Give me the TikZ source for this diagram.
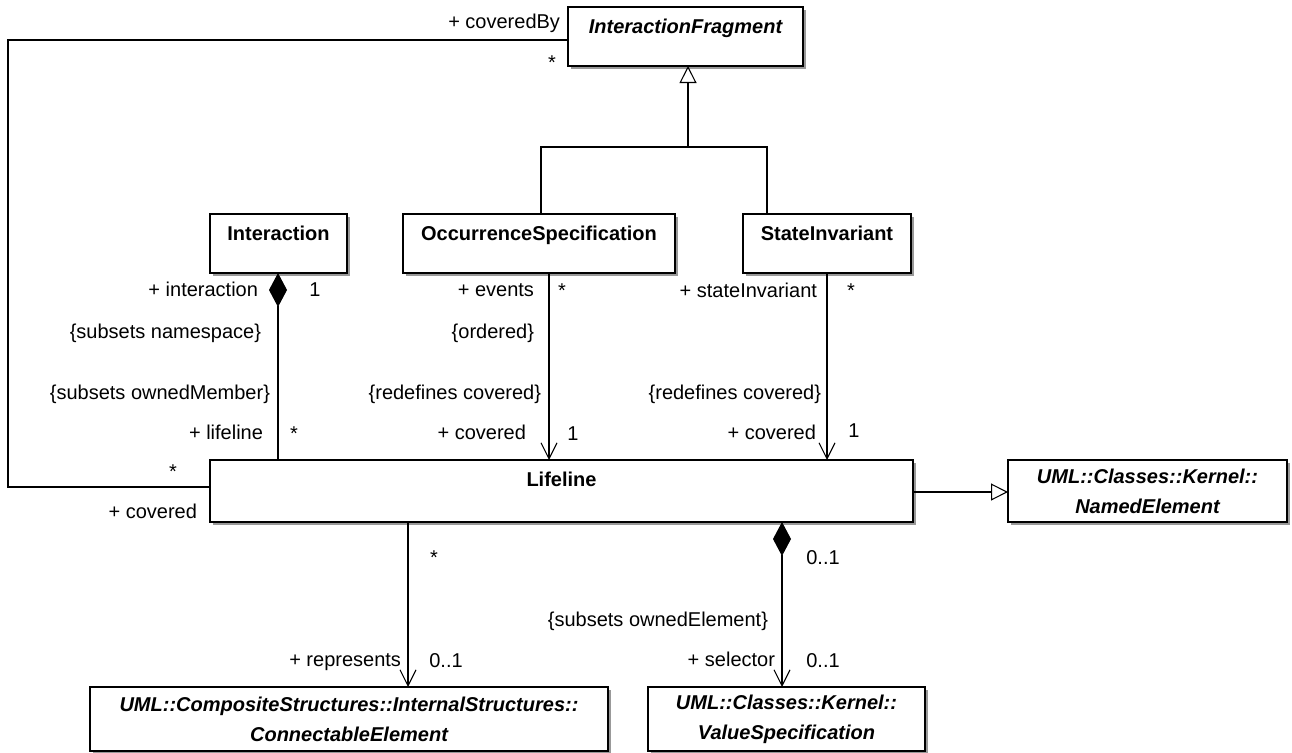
\documentclass[tikz,border=0pt]{standalone}
\usepackage{fontspec}
\setmainfont{Liberation Sans}
\usetikzlibrary{arrows.meta,shadows,calc}
\begin{document}
\begin{tikzpicture}[x=0.75pt,y=-0.75pt,
  every node/.style={inner sep=0pt, outer sep=0pt},
  cls/.style={draw, line width=1.1pt, fill=white,
    drop shadow={shadow xshift=2.25pt, shadow yshift=-2.25pt, fill=black, opacity=0.4}},
  ttl/.style={anchor=base, font=\fontsize{15pt}{18pt}\selectfont\bfseries},
  ital/.style={font=\fontsize{15pt}{22.5pt}\selectfont\bfseries\itshape, align=center},
  lbl/.style={anchor=base east, font=\fontsize{15pt}{18pt}\selectfont},
  mul/.style={anchor=base, font=\fontsize{15pt}{18pt}\selectfont},
  conn/.style={line width=0.8pt, line join=miter},
  assoc/.style={conn, -{Straight Barb[length=12pt,width=12pt,line width=0.8pt]}},
  gen/.style={conn, -{Triangle[length=12.75pt,width=12.75pt,fill=white,line width=0.8pt]}},
  comp/.style={conn, {Diamond[length=25.5pt,width=13.5pt,fill=black]}-},
  compassoc/.style={conn, {Diamond[length=25.5pt,width=13.5pt,fill=black]}-{Straight Barb[length=12pt,width=12pt,line width=0.8pt]}}
]
\useasboundingbox (0,0) rectangle (1292,753);

% classes
\node[cls, minimum width=176.25pt, minimum height=44.25pt] (IF) at (685.5,36.5) {};
\node[ttl] (IFt) at ([yshift=-19.5pt]IF.north) {\itshape InteractionFragment};
\node[cls, minimum width=102.75pt, minimum height=44.25pt] (I) at (278.5,243.5) {};
\node[ttl] (It) at ([yshift=-19.5pt]I.north) {Interaction};
\node[cls, minimum width=204pt, minimum height=44.25pt] (OS) at (539,243.5) {};
\node[ttl] (OSt) at ([yshift=-19.5pt]OS.north) {OccurrenceSpecification};
\node[cls, minimum width=126pt, minimum height=44.25pt] (SI) at (827,243.5) {};
\node[ttl] (SIt) at ([yshift=-19.5pt]SI.north) {StateInvariant};
\node[cls, minimum width=527.25pt, minimum height=46.5pt] (L) at (561.5,491) {};
\node[ttl] (Lt) at ([yshift=-20pt]L.north) {Lifeline};
\node[cls, ital, minimum width=209.25pt, minimum height=46.5pt] (NE) at (1147.5,491) {UML::Classes::Kernel::\\NamedElement};
\node[cls, ital, minimum width=388.5pt, minimum height=48pt] (CE) at (349,719) {UML::CompositeStructures::InternalStructures::\\ConnectableElement};
\node[cls, ital, minimum width=207.75pt, minimum height=48pt] (VS) at (786.5,719) {UML::Classes::Kernel::\\ValueSpecification};

% helper coordinates
\coordinate (loopTop) at (8,40);
\coordinate (loopBot) at (8,487);
\coordinate (trunk) at (688,147);
\coordinate (c541) at (541,0);
\coordinate (c767) at (767,0);
\coordinate (c278) at (278,0);
\coordinate (c549) at (549,0);
\coordinate (c827) at (827,0);
\coordinate (c408) at (408,0);
\coordinate (c782) at (782,0);
\coordinate (r492) at (0,492);

% connectors
\draw[conn] (IF.west |- loopTop) -- (loopTop) -- (loopBot) -- (L.west |- loopBot);
\draw[conn] (OS.north -| c541) |- (trunk);
\draw[conn] (SI.north -| c767) |- (trunk);
\draw[gen] (trunk) -- (IF.south -| trunk);
\draw[comp] (I.south -| c278) -- (L.north -| c278);
\draw[assoc] (OS.south -| c549) -- (L.north -| c549);
\draw[assoc] (SI.south -| c827) -- (L.north -| c827);
\draw[assoc] (L.south -| c408) -- (CE.north -| c408);
\draw[compassoc] (L.south -| c782) -- (VS.north -| c782);
\draw[gen] (L.east |- r492) -- (NE.west |- r492);

% labels
\node[lbl] (a1) at (560,28) {+ coveredBy};
\node[mul] (a2) at (552,69) {*};
\node[mul] (a3) at (173,478) {*};
\node[lbl] (a4) at (197,518) {+ covered};
\node[lbl] (b1) at (258,296) {+ interaction};
\node[mul] (b2) at (315,296) {1};
\node[lbl] (b3) at (261,338) {\{subsets namespace\}};
\node[lbl] (b4) at (270,399) {\{subsets ownedMember\}};
\node[lbl] (b5) at (263,439) {+ lifeline};
\node[mul] (b6) at (294,440) {*};
\node[lbl] (c1) at (534,296) {+ events};
\node[mul] (c2) at (562,297) {*};
\node[lbl] (c3) at (534,338) {\{ordered\}};
\node[lbl] (c4) at (541,399) {\{redefines covered\}};
\node[lbl] (c5) at (526,439) {+ covered};
\node[mul] (c6) at (573,440) {1};
\node[lbl] (d1) at (817,297) {+ stateInvariant};
\node[mul] (d2) at (851,297) {*};
\node[lbl] (d3) at (821,399) {\{redefines covered\}};
\node[lbl] (d4) at (816,439) {+ covered};
\node[mul] (d5) at (854,437) {1};
\node[mul] (e1) at (434,564) {*};
\node[lbl] (e2) at (401,666) {+ represents};
\node[mul] (e3) at (446,667) {0..1};
\node[mul] (f1) at (823,564) {0..1};
\node[lbl] (f2) at (768,626) {\{subsets ownedElement\}};
\node[lbl] (f3) at (775,666) {+ selector};
\node[mul] (f4) at (823,667) {0..1};
\end{tikzpicture}
\end{document}
